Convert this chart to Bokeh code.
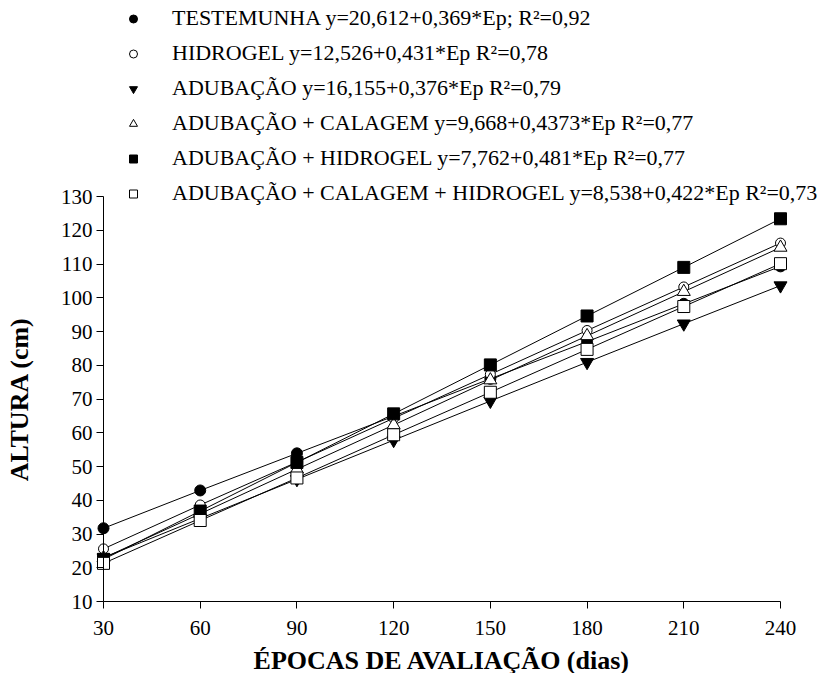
from bokeh.plotting import figure
from bokeh.models import Range1d, FixedTicker, Legend, LegendItem, ColumnDataSource, LinearAxis
from bokeh.embed import file_html
from bokeh.resources import INLINE

# ---- data ----
epocas = [30, 60, 90, 120, 150, 180, 210, 240]
testemunha = [31.7, 42.9, 53.9, 64.9, 76.0, 87.0, 98.2, 109.3]
hidrogel = [25.6, 38.6, 51.3, 64.3, 77.3, 90.3, 103.2, 116.2]
adubacao = [23.0, 34.6, 46.2, 57.8, 69.4, 80.9, 92.3, 103.6]
adub_calagem = [22.9, 36.0, 49.2, 62.3, 75.6, 88.7, 101.8, 114.9]
adub_hidrogel = [22.5, 36.8, 51.2, 65.6, 80.1, 94.6, 109.0, 123.4]
adub_cal_hidrogel = [21.3, 34.0, 46.6, 59.4, 72.0, 84.7, 97.4, 110.1]

labels = [
    "TESTEMUNHA y=20,612+0,369*Ep; R²=0,92",
    "HIDROGEL y=12,526+0,431*Ep R²=0,78",
    "ADUBAÇÃO y=16,155+0,376*Ep R²=0,79",
    "ADUBAÇÃO + CALAGEM y=9,668+0,4373*Ep R²=0,77",
    "ADUBAÇÃO + HIDROGEL y=7,762+0,481*Ep R²=0,77",
    "ADUBAÇÃO + CALAGEM + HIDROGEL y=8,538+0,422*Ep R²=0,73",
]
x_ticks = [30, 60, 90, 120, 150, 180, 210, 240]
y_ticks = [10, 20, 30, 40, 50, 60, 70, 80, 90, 100, 110, 120, 130]

series = [testemunha, hidrogel, adubacao, adub_calagem, adub_hidrogel, adub_cal_hidrogel]
styles = [
    dict(marker="circle", fill_color="black", size=11, lsize=9),
    dict(marker="circle", fill_color="white", size=10, lsize=8),
    dict(marker="inverted_triangle", fill_color="black", size=13, lsize=10),
    dict(marker="triangle", fill_color="white", size=13, lsize=10),
    dict(marker="square", fill_color="black", size=12, lsize=9),
    dict(marker="square", fill_color="white", size=12, lsize=9),
]

FONT = "Liberation Serif"

W, H = 823, 673
# pixel placement of the axes inside the canvas
X0PX, X1PX = 103, 780     # x=30 and x=240
Y0PX, Y1PX = 601, 196     # y=10 and y=130 (from top)
sx = (X1PX - X0PX) / (x_ticks[-1] - x_ticks[0])
sy = (Y0PX - Y1PX) / (y_ticks[-1] - y_ticks[0])
x_start = x_ticks[0] - X0PX / sx
x_end = x_ticks[-1] + (W - X1PX) / sx
y_end = y_ticks[-1] + Y1PX / sy
y_start = y_ticks[0] - (H - Y0PX) / sy

p = figure(
    frame_width=W, frame_height=H,
    min_border=0, min_border_left=0, min_border_right=0, min_border_top=0, min_border_bottom=0,
    x_range=Range1d(x_start, x_end), y_range=Range1d(y_start, y_end),
    x_axis_location=None, y_axis_location=None, title=None,
    output_backend="svg", toolbar_location=None,
)
p.outline_line_color = None
p.grid.visible = False
p.background_fill_color = "white"
p.border_fill_color = "white"

# lines first, then markers
for ys in series:
    p.line(epocas, ys, line_color="black", line_width=1)
for ys, st in zip(series, styles):
    p.scatter(epocas, ys, marker=st["marker"], size=st["size"],
              fill_color=st["fill_color"], line_color="black", line_width=1)

# legend-only renderers (smaller markers, no lines, nothing drawn in the plot)
nan = float("nan")
items = []
for lab, st in zip(labels, styles):
    src = ColumnDataSource(dict(x=[nan], y=[nan]))
    r = p.scatter("x", "y", source=src, marker=st["marker"], size=st["lsize"],
                  fill_color=st["fill_color"], line_color="black", line_width=1)
    items.append(LegendItem(label=lab, renderers=[r]))

# legend: glyph centre at x=133, rows centred from y~20 to y~193
legend = Legend(items=items, location=(123, H - 206))
legend.label_text_font = FONT
legend.label_text_font_size = "22px"
legend.label_text_color = "black"
legend.glyph_width = 20
legend.glyph_height = 21
legend.label_height = 21
legend.spacing = 9
legend.label_standoff = 29
legend.padding = 0
legend.margin = 0
legend.border_line_color = None
legend.background_fill_alpha = 0
p.add_layout(legend, "center")

# axes
xa = LinearAxis(fixed_location=y_ticks[0], bounds=(x_ticks[0], x_ticks[-1]),
                ticker=FixedTicker(ticks=x_ticks))
ya = LinearAxis(fixed_location=x_ticks[0], bounds=(y_ticks[0], y_ticks[-1]),
                ticker=FixedTicker(ticks=y_ticks))
for ax in (xa, ya):
    ax.axis_line_color = "black"
    ax.axis_line_width = 1
    ax.major_tick_line_color = "black"
    ax.major_tick_out = 7
    ax.major_tick_in = 0
    ax.minor_tick_line_color = None
    ax.major_label_text_font = FONT
    ax.major_label_text_font_size = "21px"
    ax.major_label_text_color = "black"
    ax.axis_label_text_font = FONT
    ax.axis_label_text_font_size = "26px"
    ax.axis_label_text_font_style = "bold"
    ax.axis_label_text_color = "black"

xa.axis_label = "ÉPOCAS DE AVALIAÇÃO (dias)"
ya.axis_label = "ALTURA (cm)"
xa.major_label_standoff = 12
ya.major_label_standoff = 4
xa.axis_label_standoff = 8
ya.axis_label_standoff = 24
p.add_layout(xa, "below")
p.add_layout(ya, "left")

open("out.html", "w").write(file_html(p, INLINE))
